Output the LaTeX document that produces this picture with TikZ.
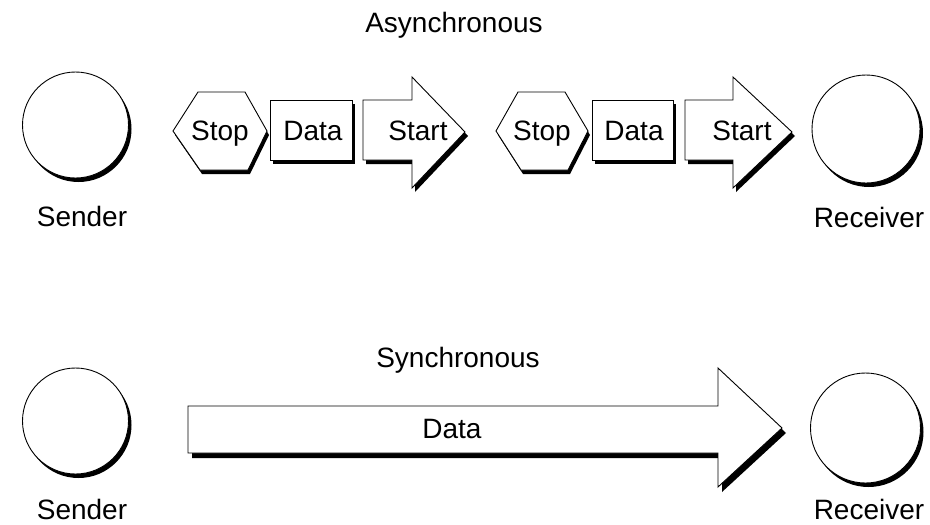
\documentclass[tikz,border=0pt]{standalone}
\usepackage{fontspec}
\setmainfont{Liberation Sans}
\begin{document}
\begin{tikzpicture}[x=1pt,y=-1pt,
  % white face with a thin black outline
  outline/.style={draw=black,fill=white,line width=0.9pt,line join=miter},
  % solid black drop shadow, offset down and to the right
  shadowed/.style={preaction={fill=black,transform canvas={shift={(#1)}}}},
  shadowed/.default={3pt,-4pt},
  station/.style={outline,shadowed,circle,inner sep=0pt,minimum size=#1},
  lbl/.style={anchor=base,inner sep=0pt,font=\fontsize{28}{30}\selectfont},
]
\useasboundingbox (0,0) rectangle (930,525);

% ---------------- asynchronous transfer ----------------
\node[lbl] (asyncTitle) at (454,32) {Asynchronous};

\node[station=106pt] (sendA) at (75.5,125) {};
\node[lbl] (sendAlbl) at (82,226) {Sender};

\node[station=108pt] (recvA) at (866,129) {};
\node[lbl] (recvAlbl) at (869,227) {Receiver};

% first character: stop bit, data, start bit
\draw[outline,shadowed={2pt,-4pt}] (173,131) -- (198,92) -- (245,92) -- (267,131)
  -- (248,170) -- (200,170) -- cycle;
\draw[outline,shadowed] (270,100) rectangle (352,160);
\draw[outline,shadowed] (363,100) -- (412,100) -- (412,77) -- (465,132)
  -- (412,188) -- (412,160) -- (363,160) -- cycle;
\node[lbl] (stop1) at (220,140) {Stop};
\node[lbl] (data1) at (313,140) {Data};
\node[lbl] (start1) at (418,140) {Start};

% second character
\draw[outline,shadowed={2pt,-4pt}] (496,131) -- (518,92) -- (565,92) -- (588,131)
  -- (568,170) -- (521,170) -- cycle;
\draw[outline,shadowed] (592,100) rectangle (673,160);
\draw[outline,shadowed] (685,100) -- (733,100) -- (733,77) -- (792,132)
  -- (733,188) -- (733,160) -- (685,160) -- cycle;
\node[lbl] (stop2) at (542,140) {Stop};
\node[lbl] (data2) at (634,140) {Data};
\node[lbl] (start2) at (742,140) {Start};

% ---------------- synchronous transfer ----------------
\node[lbl] (syncTitle) at (458,367) {Synchronous};

\node[station=106pt] (sendS) at (75.5,421) {};
\node[lbl] (sendSlbl) at (82,519) {Sender};

\node[station=110pt] (recvS) at (865.5,428) {};
\node[lbl] (recvSlbl) at (869,519) {Receiver};

\draw[outline,shadowed={4pt,-5pt}] (188,406) -- (718,406) -- (718,368) -- (782,428)
  -- (718,487) -- (718,453) -- (188,453) -- cycle;
\node[lbl] (dataS) at (452,438) {Data};
\end{tikzpicture}
\end{document}
